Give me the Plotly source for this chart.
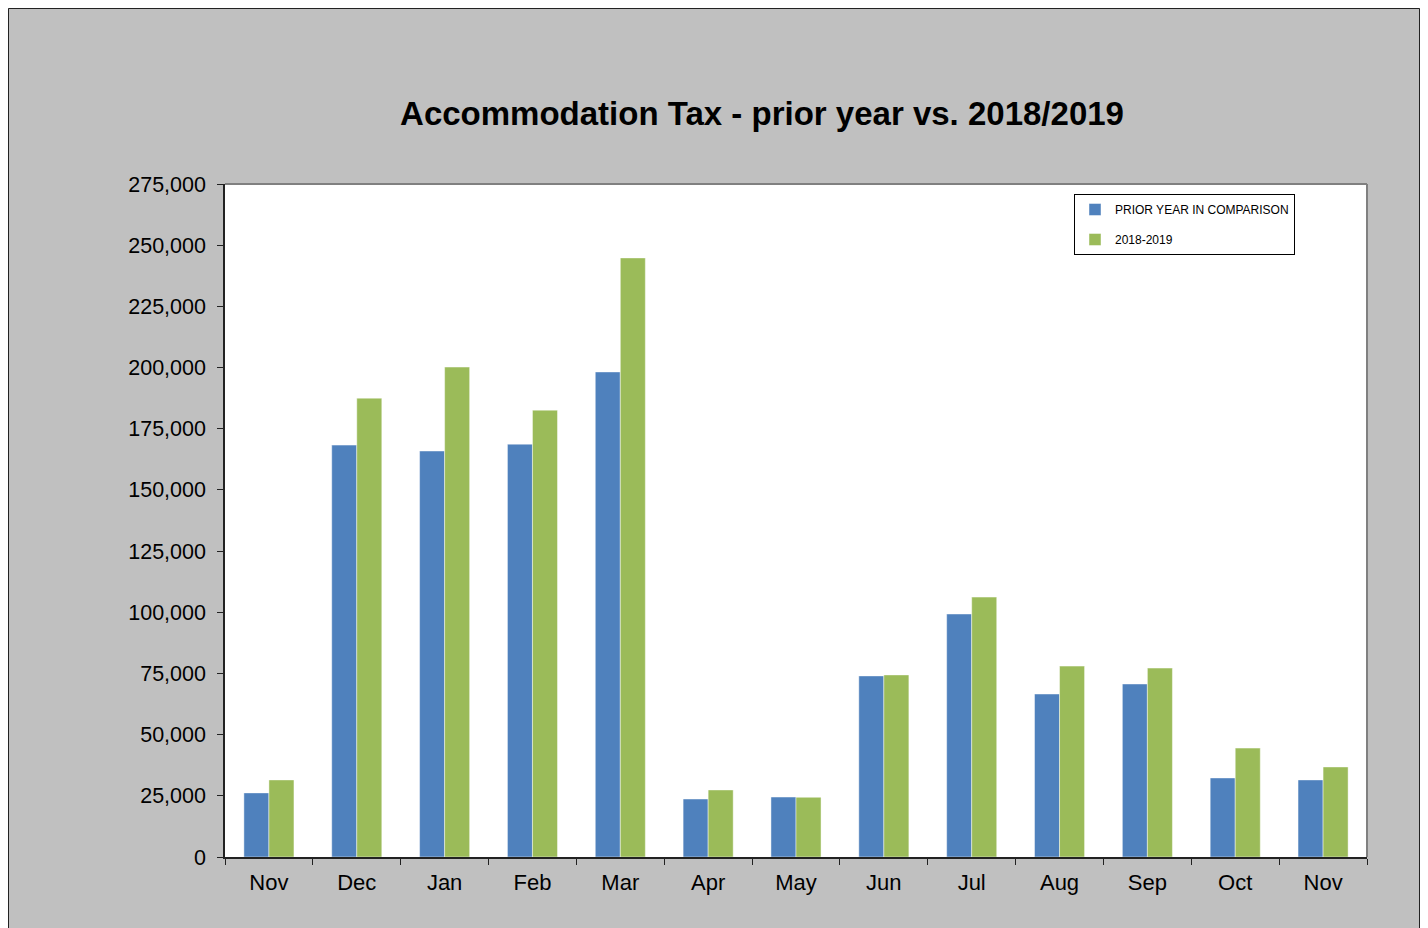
import plotly.graph_objects as go

months = ["Nov", "Dec", "Jan", "Feb", "Mar", "Apr", "May", "Jun", "Jul", "Aug", "Sep", "Oct", "Nov\u200b"]
prior_year = [26200, 168300, 165900, 168700, 198200, 23700, 24500, 74000, 99300, 66600, 70700, 32300, 31500]
current_year = [31500, 187500, 200200, 182600, 244800, 27400, 24400, 74400, 106200, 78000, 77200, 44500, 36800]
y_ticks = list(range(0, 275001, 25000))

# page draws the figure with an 8px body margin; work in page pixels and shift
OFF = 8
W, H = 1428 - OFF, 928 - OFF
L, R, T, B = 225 - OFF, 1367 - OFF, 184 - OFF, 857 - OFF
FONT = "Liberation Sans, Arial, sans-serif"

fig = go.Figure()
fig.add_trace(go.Bar(x=months, y=prior_year, name="PRIOR YEAR IN COMPARISON",
                     marker=dict(color="#4F81BD", line=dict(color="rgba(255,255,255,0.45)", width=1)),
                     legendgroup="a"))
fig.add_trace(go.Bar(x=months, y=current_year, name="2018-2019",
                     marker=dict(color="#9BBB59", line=dict(color="rgba(255,255,255,0.45)", width=1)),
                     legendgroup="b"))

def px_x(p):
    return (p - OFF - L) / (R - L)

def px_y(p):
    return (B - (p - OFF)) / (B - T)

shapes = [
    # outer border
    dict(type="rect", xref="paper", yref="paper", x0=px_x(8.5), x1=px_x(1419.5), y0=px_y(940), y1=px_y(8.5),
         fillcolor="rgba(0,0,0,0)", line=dict(color="#222222", width=1), layer="above"),
    # plot frame top/right
    dict(type="line", xref="paper", yref="paper", x0=0, x1=1, y0=1, y1=1,
         line=dict(color="#808080", width=2), layer="above"),
    dict(type="line", xref="paper", yref="paper", x0=1, x1=1, y0=0, y1=1,
         line=dict(color="#808080", width=2), layer="above"),
]

fig.update_layout(
    width=W, height=H,
    margin=dict(l=L, r=W - R, t=T, b=H - B),
    paper_bgcolor="#C0C0C0",
    plot_bgcolor="white",
    barmode="group",
    bargap=0.43,
    bargroupgap=0,
    font=dict(family=FONT, color="black"),
    title=dict(text="<b>Accommodation Tax - prior year vs. 2018/2019</b>",
               font=dict(family=FONT, size=33, color="black"),
               x=(762 - OFF) / W, xanchor="center", xref="container",
               y=1 - (113 - OFF) / H, yanchor="middle", yref="container"),
    legend=dict(x=px_x(1074), y=px_y(194), xanchor="left", yanchor="top",
                bgcolor="white", bordercolor="black", borderwidth=1,
                font=dict(family=FONT, size=12, color="black"),
                tracegroupgap=11, itemwidth=30),
    shapes=shapes,
    xaxis=dict(showline=True, linecolor="#222222", linewidth=1.5,
               ticks="outside", tickson="boundaries", ticklen=6, tickcolor="#222222",
               tickfont=dict(size=22, family=FONT), ticklabelstandoff=5,
               showgrid=False, fixedrange=True),
    yaxis=dict(range=[0, 275000], tickvals=y_ticks, tickformat=",d",
               showline=True, linecolor="#222222", linewidth=1.5,
               ticks="outside", ticklen=6, tickcolor="#222222",
               tickfont=dict(size=21.5, family=FONT), ticklabelstandoff=7,
               showgrid=False, zeroline=False),
    showlegend=True,
)

fig.write_html("out.html")
